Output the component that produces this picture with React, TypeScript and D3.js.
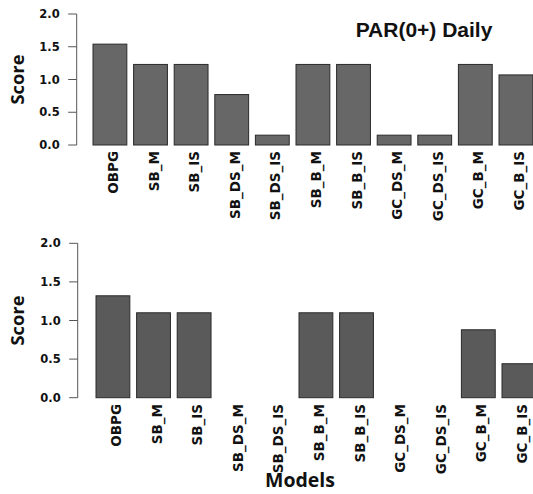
import React from "react";
import * as d3 from "d3";

const models = ["OBPG", "SB_M", "SB_IS", "SB_DS_M", "SB_DS_IS", "SB_B_M", "SB_B_IS", "GC_DS_M", "GC_DS_IS", "GC_B_M", "GC_B_IS"];
const topScores = [1.54, 1.23, 1.23, 0.77, 0.15, 1.23, 1.23, 0.15, 0.15, 1.23, 1.07];
const bottomScores = [1.32, 1.1, 1.1, 0, 0, 1.1, 1.1, 0, 0, 0.88, 0.44];
const yTicks = [0, 0.5, 1, 1.5, 2];
const title = "PAR(0+) Daily";

const W = 533;
const H = 494;

type PanelProps = {
  values: number[];
  y0: number;
  y1: number;
  axisX: number;
  barStart: number;
  labelTop: number;
  fill: string;
};

function Panel({ values, y0, y1, axisX, barStart, labelTop, fill }: PanelProps) {
  const step = 40.6;
  const x = d3
    .scaleBand<string>()
    .domain(models)
    .range([barStart, barStart + step * (models.length - 1 / 6)])
    .paddingInner(1 / 6)
    .paddingOuter(0);
  const y = d3.scaleLinear().domain([0, 2]).range([y0, y1]);
  return (
    <g>
      {models.map((m, i) =>
        values[i] > 0 ? (
          <rect
            key={m}
            x={x(m)}
            y={y(values[i])}
            width={x.bandwidth()}
            height={y(0) - y(values[i])}
            fill={fill}
            stroke="#2a2a2a"
            strokeWidth={1}
          />
        ) : null
      )}
      <line x1={axisX} x2={axisX} y1={y(0)} y2={y(2)} stroke="#555" strokeWidth={1} />
      {yTicks.map((t) => (
        <g key={t}>
          <line x1={axisX - 8.5} x2={axisX} y1={y(t)} y2={y(t)} stroke="#555" strokeWidth={1} />
          <text
            x={axisX - 17}
            y={y(t)}
            dy="0.36em"
            textAnchor="end"
            fontFamily="DejaVu Sans"
            fontWeight="bold"
            fontSize={11.5}
            fill="#111"
          >
            {t.toFixed(1)}
          </text>
        </g>
      ))}
      <text
        transform={`translate(24,${(y0 + y1) / 2}) rotate(-90) scale(1.08,1)`}
        textAnchor="middle"
        fontFamily="Open Sans"
        fontWeight="bold"
        fontSize={17}
        fill="#111"
      >
        Score
      </text>
      {models.map((m) => (
        <text
          key={m}
          transform={`translate(${(x(m) as number) + x.bandwidth() / 2 + 8},${labelTop}) rotate(-90)`}
          textAnchor="end"
          fontFamily="DejaVu Sans"
          fontWeight="bold"
          fontSize={13.5}
          fill="#111"
        >
          {m}
        </text>
      ))}
    </g>
  );
}

export default function App() {
  return (
    <svg
      width={W}
      height={H}
      style={{ position: "absolute", left: 0, top: 0, background: "#fff" }}
    >
      <rect x={0} y={0} width={W} height={H} fill="#fff" />
      <Panel values={topScores} y0={145} y1={14} axisX={76.7} barStart={93} labelTop={151} fill="#676767" />
      <Panel values={bottomScores} y0={397.7} y1={243.3} axisX={77.7} barStart={96} labelTop={404} fill="#5a5a5a" />
      <text
        x={424}
        y={37}
        textAnchor="middle"
        fontFamily="Liberation Sans"
        fontWeight="bold"
        fontSize={21}
        fill="#111"
      >
        {title}
      </text>
      <text
        x={300}
        y={487}
        textAnchor="middle"
        fontFamily="Open Sans"
        fontWeight="bold"
        fontSize={19.5}
        fill="#111"
      >
        Models
      </text>
    </svg>
  );
}
